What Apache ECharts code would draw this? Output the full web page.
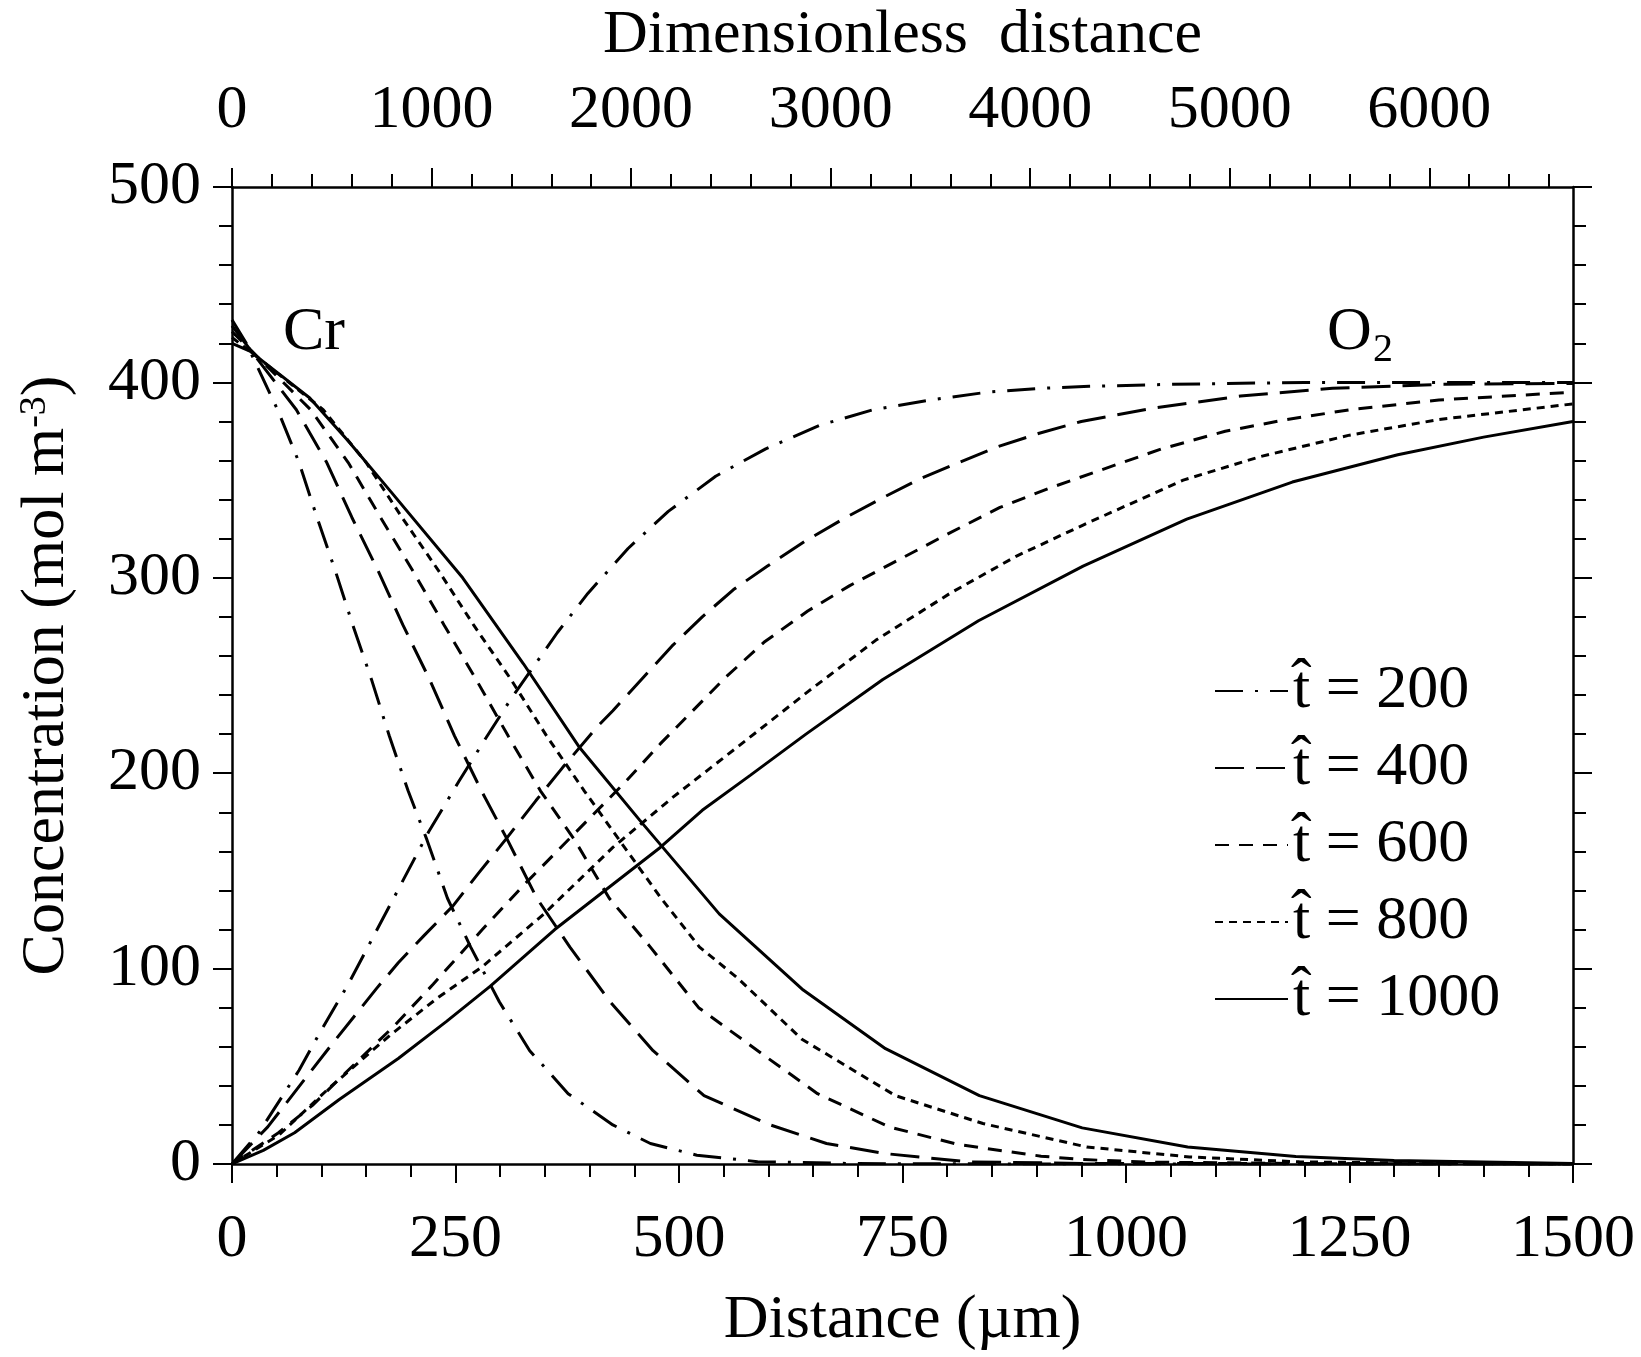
<!DOCTYPE html>
<html>
<head>
<meta charset="utf-8">
<script src="https://cdn.jsdelivr.net/npm/echarts@6/dist/echarts.min.js"></script>
<style>
html, body { margin: 0; padding: 0; background: #fff; }
#echarts { width: 1641px; height: 1357px; }
</style>
</head>
<body>
<div id="echarts"></div>
<script>
var times = [200, 400, 600, 800, 1000];
var topTicks = [0, 1000, 2000, 3000, 4000, 5000, 6000];
var topMinorTicks = [200, 400, 600, 800, 1200, 1400, 1600, 1800, 2200, 2400, 2600, 2800,
    3200, 3400, 3600, 3800, 4200, 4400, 4600, 4800, 5200, 5400, 5600, 5800, 6200, 6400, 6600];

/* Cr, [distance um, concentration] */
var cr200 = [[0,432],[16,420],[51,386],[75,359],[95,331],[116,303],[135,276],[156,248],[176,219],[197,191],
    [218,166],[241,136],[267,111],[299,83],[333,58],[376,36],[426,20],[468,10.5],[520,4.5],[588,1.2],[700,0.2],[900,0],[1500,0]];
var cr400 = [[0,429],[20,417],[72,386],[106,359],[134,331],[164,303],[191,276],[221,248],[249,219],[279,191],
    [308,166],[341,136],[378,111],[423,83],[471,58],[528,35],[602,20],[665,10.5],[729,5.4],[823,1.1],[950,0.3],[1500,0]];
var cr600 = [[0,426],[20,417],[88,386],[130,359],[166,331],[203,303],[237,276],[273,248],[309,219],[345,191],
    [383,166],[422,136],[468,111],[522,80],[600,54],[655,36],[735,19],[812,10],[905,4],[951,2.3],[1020,1],[1200,0.2],[1500,0]];
var cr800 = [[0,423],[20,416],[102,386],[150,359],[190,331],[232,303],[270,276],[312,248],[352,219],[394,191],
    [436,164],[480,136],[523,111],[566,95],[637,64],[742,35],[840,20.7],[956,8.7],[1071,3.6],[1194,1.1],[1350,0.3],[1500,0]];
var cr1000 = [[0,420],[20,416],[87,392],[130,370],[176,345],[258,300],[326,256],[389,213],[456,176],[545,128],
    [639,89],[731,59],[836,35],[951,18.5],[1069,8.7],[1190,3.8],[1300,1.8],[1500,0.3]];

/* O2 */
var o2_200 = [[0,0],[30,16],[75,48],[98,67],[130,92],[160,118],[190,144],[220,170],[254,196],[284,218],[312,238],
    [335,253],[364,272],[398,292],[443,315],[488,334],[541,352],[597,366],[657,378],[717,386],[781,391],[845,395],
    [907,397],[959,398],[1050,399],[1200,400],[1500,400]];
var o2_400 = [[0,0],[40,19],[79,42],[113,62],[162,90],[186,103],[215,117],[247,132],[276,149],[306,166],[340,186],
    [370,203],[409,224],[426,232],[460,249],[492,265],[526,280],[561,294],[599,306],[642,319],[687,331],[728,341],
    [771,351],[813,359],[856,367],[903,374],[950,380],[1033,387],[1128,393],[1231,397],[1350,399],[1500,399.5]];
var o2_600 = [[0,0],[52,16],[90,30],[130,48],[180,70],[225,92],[280,120],[329,144],[385,170],[441,196],[479,215],
    [552,249],[595,267],[644,283],[691,296],[749,310],[803,323],[859,336],[915,346],[971,355],[1040,366],[1111,375],
    [1180,381],[1250,386],[1350,391],[1500,395]];
var o2_800 = [[0,0],[53,15],[109,39],[177,66],[230,85],[280,101],[349,128],[426,162],[494,188],[567,214],[645,242],
    [720,268],[803,292],[877,311],[952,327],[1064,350],[1150,362],[1250,373],[1350,381],[1500,389]];
var o2_1000 = [[0,0],[35,7],[70,16],[120,33],[186,54],[240,73],[289,91],[361,120],[420,141],[479,162],[526,181],
    [580,199],[642,220],[728,248],[835,278],[952,306],[1068,330],[1186,349],[1304,363],[1400,372],[1500,380]];

var font = 'Liberation Serif';
var crData = [cr200, cr400, cr600, cr800, cr1000];
var o2Data = [o2_200, o2_400, o2_600, o2_800, o2_1000];
var dashes = [[28, 12, 3, 12], [29, 12], [14, 10], [8, 6], 'solid'];

var legendNames = [];
var series = [];
for (var i = 0; i < times.length; i++) {
    legendNames.push('t\u0302 = ' + times[i]);
}
for (var k = 0; k < times.length; k++) {
    var ls = { color: '#000', width: 3, type: dashes[k] };
    series.push({ name: legendNames[k], type: 'line', data: crData[k], symbol: 'none', lineStyle: ls, itemStyle: { color: '#000' } });
    series.push({ name: legendNames[k], type: 'line', data: o2Data[k], symbol: 'none', lineStyle: ls, itemStyle: { color: '#000' } });
}

function plain(v) { return String(v); }

var lineStyle = { color: '#000', width: 2.5 };
var tickStyle = { color: '#000', width: 2 };
var labelStyle = { fontFamily: font, fontSize: 62, color: '#000', formatter: plain };

var myChart = echarts.init(document.getElementById('echarts'));

var option = {
    animation: false,
    backgroundColor: '#fff',
    grid: { left: 232, right: 68, top: 186, bottom: 193 },
    legend: {
        orient: 'vertical',
        left: 1209,
        top: 655,
        itemWidth: 73,
        itemHeight: 20,
        itemGap: 15,
        data: legendNames,
        itemStyle: { color: 'rgba(0,0,0,0)', borderWidth: 0 },
        textStyle: { fontFamily: font, fontSize: 62, color: '#000', lineHeight: 60 }
    },
    xAxis: [{
        type: 'value', position: 'bottom', min: 0, max: 1500, interval: 250,
        name: 'Distance (\u00b5m)', nameLocation: 'middle', nameGap: 126,
        nameTextStyle: { fontFamily: font, fontSize: 62, color: '#000' },
        axisLine: { onZero: false, lineStyle: lineStyle },
        axisTick: { inside: false, length: 19, lineStyle: tickStyle },
        minorTick: { show: true, splitNumber: 5, length: 13, lineStyle: tickStyle },
        axisLabel: Object.assign({ margin: 45 }, labelStyle),
        splitLine: { show: false }
    }, {
        type: 'value', position: 'top', min: 0, max: 6720,
        name: 'Dimensionless  distance', nameLocation: 'middle', nameGap: 120,
        nameTextStyle: { fontFamily: font, fontSize: 62, color: '#000' },
        axisLine: { onZero: false, lineStyle: lineStyle },
        axisTick: { inside: false, length: 19, lineStyle: tickStyle, customValues: topTicks },
        axisLabel: Object.assign({ margin: 45, customValues: topTicks }, labelStyle),
        splitLine: { show: false }
    }, {
        type: 'value', position: 'top', min: 0, max: 6720,
        axisLine: { show: false, onZero: false },
        axisTick: { inside: false, length: 13, lineStyle: tickStyle, customValues: topMinorTicks },
        axisLabel: { show: false },
        splitLine: { show: false }
    }],
    yAxis: [{
        type: 'value', position: 'left', min: 0, max: 500, interval: 100,
        name: 'Concentration (mol m{sup|-3})', nameLocation: 'middle', nameGap: 154, nameRotate: 90,
        nameTextStyle: {
            fontFamily: font, fontSize: 62, color: '#000', lineHeight: 62,
            rich: { sup: { fontFamily: font, fontSize: 38, color: '#000', lineHeight: 38, verticalAlign: 'top' } }
        },
        axisLine: { onZero: false, lineStyle: lineStyle },
        axisTick: { inside: false, length: 19, lineStyle: tickStyle },
        minorTick: { show: true, splitNumber: 5, length: 13, lineStyle: tickStyle },
        axisLabel: Object.assign({ margin: 31 }, labelStyle),
        splitLine: { show: false }
    }, {
        type: 'value', position: 'right', min: 0, max: 500, interval: 100,
        axisLine: { onZero: false, lineStyle: lineStyle },
        axisTick: { inside: false, length: 19, lineStyle: tickStyle },
        minorTick: { show: true, splitNumber: 5, length: 13, lineStyle: tickStyle },
        axisLabel: { show: false },
        splitLine: { show: false }
    }],
    graphic: [
        { type: 'text', left: 283, top: 302, style: { text: 'Cr', font: '62px "Liberation Serif"', fill: '#000' } },
        { type: 'text', left: 1327, top: 302, style: { text: 'O', font: '62px "Liberation Serif"', fill: '#000' } },
        { type: 'text', left: 1373, top: 330, style: { text: '2', font: '40px "Liberation Serif"', fill: '#000' } }
    ],
    series: series
};

myChart.setOption(option);
</script>
</body>
</html>
